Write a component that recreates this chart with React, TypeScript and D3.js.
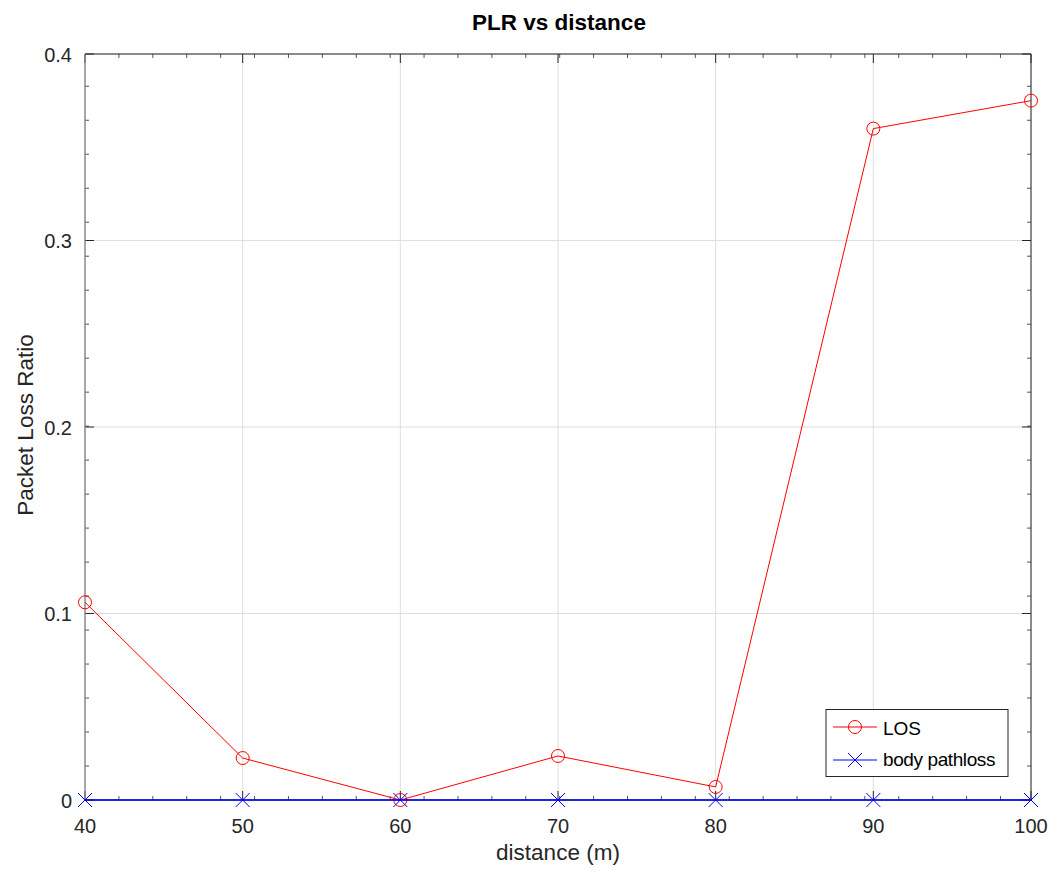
import React from "react";
import * as d3 from "d3";

const distances = [40, 50, 60, 70, 80, 90, 100];
const losValues = [0.106, 0.0225, 0, 0.0236, 0.007, 0.36, 0.375];
const bodyValues = [0, 0, 0, 0, 0, 0, 0];
const xTicks = [40, 50, 60, 70, 80, 90, 100];
const yTicks = [0, 0.1, 0.2, 0.3, 0.4];
const yTickLabels = ["0", "0.1", "0.2", "0.3", "0.4"];

const W = 1057, H = 873;
const L = 85, R = 1031, T = 54, B = 800;
const FONT = "'Liberation Sans', Arial, sans-serif";
const TXT = "#262626";

export default function App() {
  const x = d3.scaleLinear().domain([40, 100]).range([L, R]);
  const y = d3.scaleLinear().domain([0, 0.4]).range([B, T]);
  const xMinor = d3.range(40, 100, 60 / 27.9).slice(1);
  const yMinor = d3.range(0, 0.4, 0.4 / 21.95).slice(1);
  const line = d3.line<number>().x((_, i) => x(distances[i])).y((d) => y(d));

  return (
    <svg width={W} height={H} style={{ position: "absolute", left: 0, top: 0, background: "#fff" }}>
      <rect x={0} y={0} width={W} height={H} fill="#fff" />
      {/* grid */}
      {xTicks.map((t) => (
        <line key={"gx" + t} x1={x(t)} x2={x(t)} y1={T} y2={B} stroke="#dedede" strokeWidth={1} />
      ))}
      {yTicks.map((t) => (
        <line key={"gy" + t} x1={L} x2={R} y1={y(t)} y2={y(t)} stroke="#dedede" strokeWidth={1} />
      ))}
      {/* minor ticks */}
      {xMinor.map((t, i) => (
        <g key={"mx" + i} stroke="#555" strokeWidth={1}>
          <line x1={x(t)} x2={x(t)} y1={B} y2={B - 4} />
          <line x1={x(t)} x2={x(t)} y1={T} y2={T + 4} />
        </g>
      ))}
      {yMinor.map((t, i) => (
        <g key={"my" + i} stroke="#555" strokeWidth={1}>
          <line x1={L} x2={L + 4} y1={y(t)} y2={y(t)} />
          <line x1={R} x2={R - 4} y1={y(t)} y2={y(t)} />
        </g>
      ))}
      {/* major ticks */}
      {xTicks.map((t) => (
        <g key={"tx" + t} stroke={TXT} strokeWidth={1}>
          <line x1={x(t)} x2={x(t)} y1={B} y2={B - 9} />
          <line x1={x(t)} x2={x(t)} y1={T} y2={T + 9} />
        </g>
      ))}
      {yTicks.map((t) => (
        <g key={"ty" + t} stroke={TXT} strokeWidth={1}>
          <line x1={L} x2={L + 9} y1={y(t)} y2={y(t)} />
          <line x1={R} x2={R - 9} y1={y(t)} y2={y(t)} />
        </g>
      ))}
      {/* frame */}
      <line x1={L} x2={R} y1={T} y2={T} stroke={TXT} strokeWidth={1} />
      <line x1={R} x2={R} y1={T} y2={B} stroke={TXT} strokeWidth={1} />
      <line x1={L} x2={L} y1={T} y2={B} stroke="#808080" strokeWidth={1.3} />
      <line x1={L} x2={R} y1={B} y2={B} stroke={TXT} strokeWidth={1} />
      {/* tick labels */}
      {xTicks.map((t) => (
        <text key={"lx" + t} x={x(t)} y={833} textAnchor="middle" fontFamily={FONT} fontSize={20} fill={TXT}>
          {t}
        </text>
      ))}
      {yTicks.map((t, i) => (
        <text key={"ly" + t} x={72} y={y(t) + 7.5} textAnchor="end" fontFamily={FONT} fontSize={20} fill={TXT}>
          {yTickLabels[i]}
        </text>
      ))}
      {/* axis titles */}
      <text x={(L + R) / 2} y={860} textAnchor="middle" fontFamily={FONT} fontSize={22.5} fill={TXT}>
        distance (m)
      </text>
      <text transform={`translate(33, 425) rotate(-90)`} textAnchor="middle" fontFamily={FONT} fontSize={22.5} fill={TXT}>
        Packet Loss Ratio
      </text>
      <text x={(L + R) / 2 + 1} y={30} textAnchor="middle" fontFamily={FONT} fontSize={22.5} fontWeight="bold" fill="#000">
        PLR vs distance
      </text>
      {/* series */}
      <path d={line(losValues) || ""} fill="none" stroke="#ff0000" strokeWidth={1} />
      {losValues.map((v, i) => (
        <circle key={"c" + i} cx={x(distances[i])} cy={y(v)} r={6.5} fill="none" stroke="#ff0000" strokeWidth={1} />
      ))}
      <path d={line(bodyValues) || ""} fill="none" stroke="#0000ff" strokeWidth={1.5} />
      {bodyValues.map((v, i) => {
        const cx = x(distances[i]);
        const cy = y(v);
        const s = 7;
        return (
          <g key={"x" + i} stroke="#0000ff" strokeWidth={1}>
            <line x1={cx - s} x2={cx + s} y1={cy - s} y2={cy + s} />
            <line x1={cx - s} x2={cx + s} y1={cy + s} y2={cy - s} />
          </g>
        );
      })}
      {/* legend */}
      <rect x={826} y={709.5} width={182} height={67} fill="#fff" stroke={TXT} strokeWidth={1} />
      <line x1={833} x2={877} y1={727} y2={727} stroke="#ff0000" strokeWidth={1} />
      <circle cx={855} cy={727} r={6.5} fill="none" stroke="#ff0000" strokeWidth={1} />
      <text x={883} y={735} fontFamily={FONT} fontSize={19} fill="#000">LOS</text>
      <line x1={833} x2={877} y1={760} y2={760} stroke="#0000ff" strokeWidth={1} />
      <g stroke="#0000ff" strokeWidth={1}>
        <line x1={848} x2={862} y1={753} y2={767} />
        <line x1={848} x2={862} y1={767} y2={753} />
      </g>
      <text x={883} y={766} fontFamily={FONT} fontSize={19} fill="#000" letterSpacing={-0.4}>body pathloss</text>
    </svg>
  );
}
